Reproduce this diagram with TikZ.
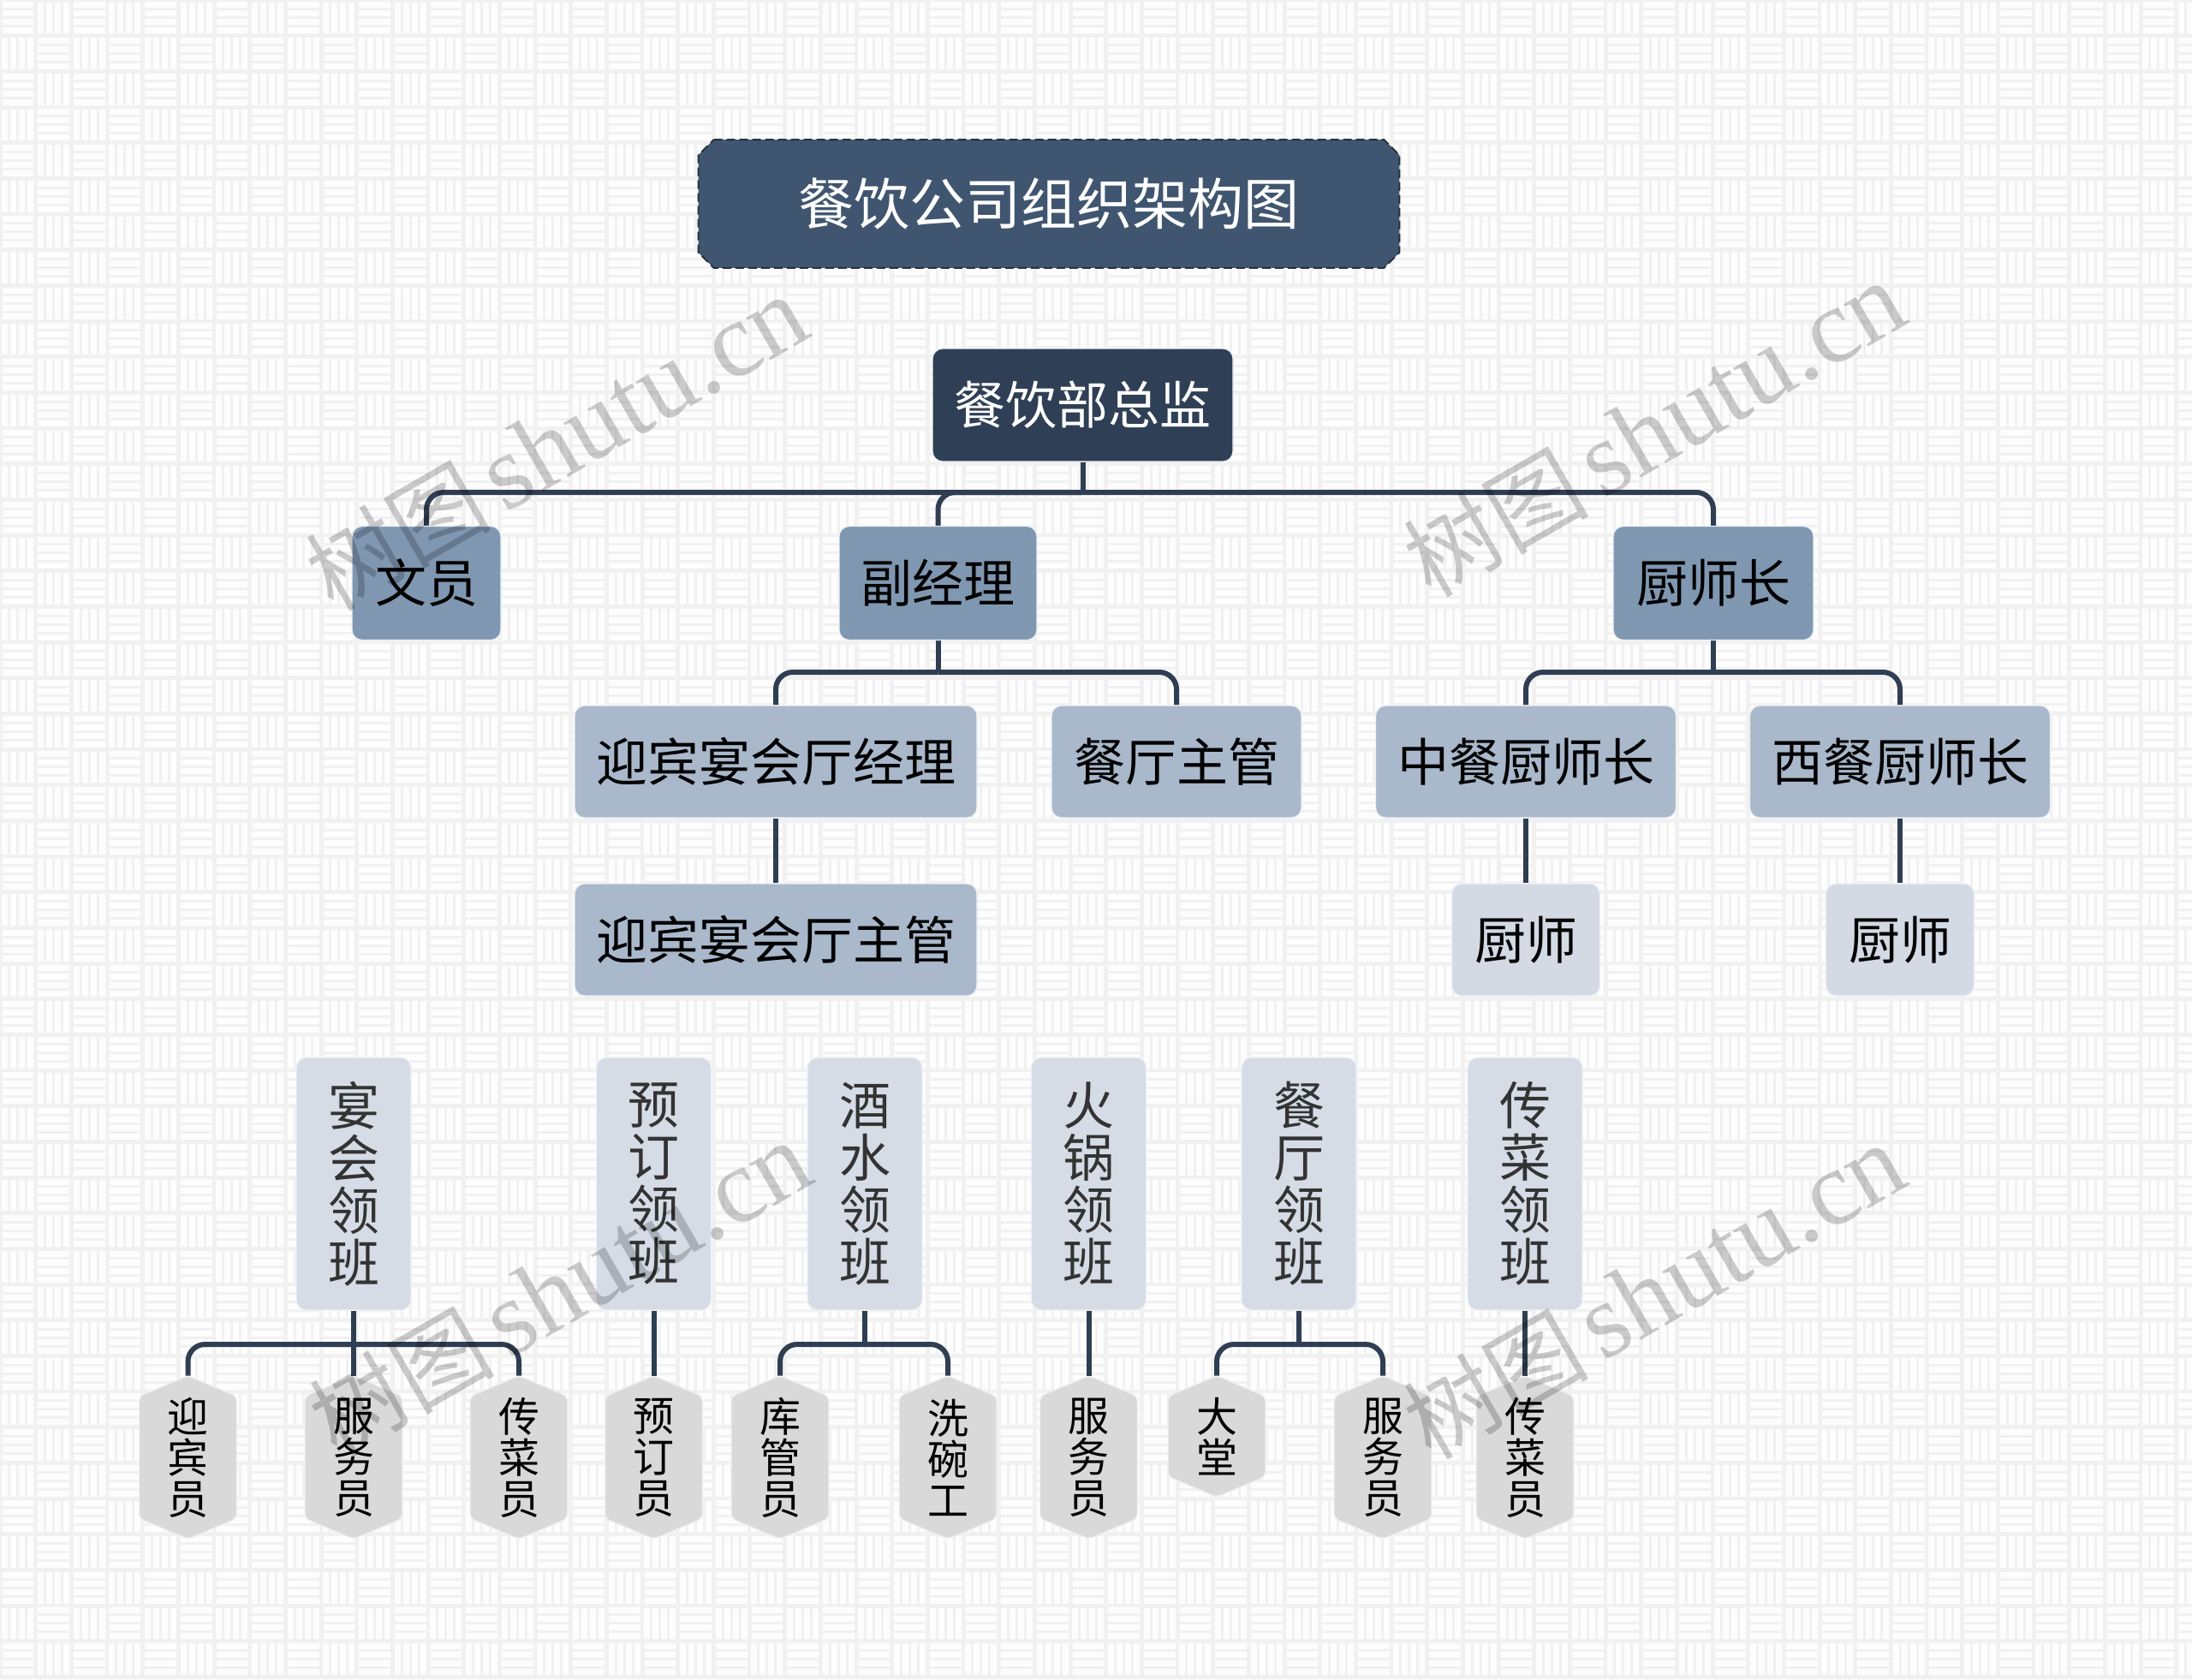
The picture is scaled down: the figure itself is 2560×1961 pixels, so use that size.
\documentclass[tikz,border=0pt]{standalone}
\usepackage{fontspec}
\newfontfamily\cjk{Noto Sans CJK SC}
\newfontfamily\wmserif{Liberation Serif}
\definecolor{cBg}{HTML}{F1F1F1}
\definecolor{cBar}{HTML}{FDFDFD}
\definecolor{cLine}{HTML}{2F3E52}
\definecolor{cTitle}{HTML}{40556F}
\definecolor{cTitleB}{HTML}{26323F}
\definecolor{cTop}{HTML}{2F3F55}
\definecolor{cL2}{HTML}{8097B1}
\definecolor{cL3}{HTML}{A9B8CB}
\definecolor{cL4}{HTML}{D3DAE4}
\definecolor{cL5}{HTML}{D5DCE6}
\definecolor{cHex}{HTML}{D9D9D9}
\definecolor{cEdge}{HTML}{EEF1F5}
\definecolor{cTxt}{HTML}{333333}
\pgfdeclarelayer{bg}\pgfdeclarelayer{shp}\pgfdeclarelayer{fg}
\pgfsetlayers{bg,shp,main,fg}
\tikzset{
  box/.style={rectangle, rounded corners=6pt, draw=cEdge, line width=0.6pt, inner sep=0pt, text=black, font=\cjk\fontsize{30}{30}\selectfont},
  lvtwo/.style={box, fill=cL2, minimum height=66.5pt},
  lvthree/.style={box, fill=cL3, minimum height=65.5pt},
  chef/.style={box, fill=cL4, minimum height=65.5pt, minimum width=86.5pt},
  vbox/.style={box, fill=cL5, text=cTxt, minimum width=67pt, minimum height=147.5pt, align=center, font=\cjk\fontsize{30}{30.5}\selectfont},
  hextext/.style={rectangle, inner sep=0pt, minimum width=56.5pt, align=center, text=black, font=\cjk\fontsize{24}{24}\selectfont},
  hexshape/.style={fill=cHex, draw=cEdge, line width=0.6pt, rounded corners=3pt},
  conn/.style={draw=cLine, line width=3pt, rounded corners=10pt},
  stub/.style={draw=cLine, line width=3pt},
  bgbar/.style={draw=cBar, line width=3.6pt, dash pattern=on 18.33pt off 23.34pt},
  wmark/.style={rotate=30, text=black, opacity=0.2, inner sep=0pt},
}
\newcommand\hexnode[5]{%
  \node[hextext, minimum height=#4] (#1) at (#2,#3) {#5};
  \begin{pgfonlayer}{shp}
    \path[hexshape] (#1.north) -- ([yshift=-12pt]#1.north east) -- ([yshift=12pt]#1.south east)
      -- (#1.south) -- ([yshift=12pt]#1.south west) -- ([yshift=-12pt]#1.north west) -- cycle;
  \end{pgfonlayer}}
\begin{document}
\begin{tikzpicture}[x=0.5pt,y=-0.5pt]
\useasboundingbox (0,0) rectangle (2560,1961);
% background weave
\begin{pgfonlayer}{bg}
  \fill[cBg] (0,0) rectangle (2560,1961);
  \foreach \j in {0,...,47}{
    \pgfmathsetmacro\st{mod(\j,2)*41.667+2.5}
    \foreach \k in {5.83,15.83,25.83,35.83}{
      \draw[bgbar] (\st,\j*41.667+\k) -- (2600,\j*41.667+\k);
    }
  }
  \foreach \i in {0,...,61}{
    \pgfmathsetmacro\st{(1-mod(\i,2))*41.667+2.5}
    \foreach \k in {5.83,15.83,25.83,35.83}{
      \draw[bgbar] (\i*41.667+\k,\st) -- (\i*41.667+\k,2000);
    }
  }
\end{pgfonlayer}

% title
\node[rectangle, inner sep=0pt, minimum width=409pt, minimum height=74.5pt, text=white,
      font=\cjk\fontsize{32.5}{33}\selectfont] (title) at (1225,238) {餐饮公司组织架构图};
\begin{pgfonlayer}{shp}
  \path[fill=cTitle, draw=cTitleB, line width=1pt, dash pattern=on 5pt off 2.5pt]
    ([xshift=9pt]title.north west) -- ([xshift=-9pt]title.north east) -- ([yshift=-9pt]title.north east)
    -- ([yshift=9pt]title.south east) -- ([xshift=-9pt]title.south east) -- ([xshift=9pt]title.south west)
    -- ([yshift=9pt]title.south west) -- ([yshift=-9pt]title.north west) -- cycle;
\end{pgfonlayer}

% level 1
\node[box, fill=cTop, draw=cEdge, text=white, minimum width=175.5pt, minimum height=66pt] (zj) at (1264.5,473) {餐饮部总监};
% level 2
\node[lvtwo, minimum width=87pt] (wy) at (498,681) {文员};
\node[lvtwo, minimum width=115.5pt] (fjl) at (1095.5,681) {副经理};
\node[lvtwo, minimum width=117pt] (csz) at (2001,681) {厨师长};
% level 3
\node[lvthree, minimum width=235pt] (ybjl) at (906,889.5) {迎宾宴会厅经理};
\node[lvthree, minimum width=146pt] (ctzg) at (1374,889.5) {餐厅主管};
\node[lvthree, minimum width=175.5pt] (zc) at (1782,889.5) {中餐厨师长};
\node[lvthree, minimum width=175.5pt] (xc) at (2219,889.5) {西餐厨师长};
% level 4
\node[lvthree, minimum width=235pt] (ybzg) at (906,1097.5) {迎宾宴会厅主管};
\node[chef] (cs1) at (1782,1097.5) {厨师};
\node[chef] (cs2) at (2219,1097.5) {厨师};
% level 5
\node[vbox] (yh) at (413,1382.5) {宴\\会\\领\\班};
\node[vbox] (yd) at (763.5,1382.5) {预\\订\\领\\班};
\node[vbox] (js) at (1010,1382.5) {酒\\水\\领\\班};
\node[vbox] (hg) at (1271.5,1382.5) {火\\锅\\领\\班};
\node[vbox] (ct) at (1517,1382.5) {餐\\厅\\领\\班};
\node[vbox] (cc) at (1781,1382.5) {传\\菜\\领\\班};
% level 6
\hexnode{h1}{219.5}{1702}{95pt}{迎\\宾\\员}
\hexnode{h2}{413}{1702}{95pt}{服\\务\\员}
\hexnode{h3}{606}{1702}{95pt}{传\\菜\\员}
\hexnode{h4}{763.5}{1702}{95pt}{预\\订\\员}
\hexnode{h5}{911}{1702}{95pt}{库\\管\\员}
\hexnode{h6}{1107}{1702}{95pt}{洗\\碗\\工}
\hexnode{h7}{1271.5}{1702}{95pt}{服\\务\\员}
\hexnode{h8}{1421}{1677.5}{70.5pt}{大\\堂}
\hexnode{h9}{1615}{1702}{95pt}{服\\务\\员}
\hexnode{h10}{1781}{1702}{95pt}{传\\菜\\员}

% connectors
\begin{pgfonlayer}{shp}
  \draw[stub] (zj.south) -- (zj.south |- 0,575) coordinate (b0);
  \draw[conn] (b0) -| (wy.north);
  \draw[conn] (b0) -| (fjl.north);
  \draw[conn] (b0) -| (csz.north);
  \draw[stub] (fjl.south) -- (fjl.south |- 0,785) coordinate (b1);
  \draw[conn] (b1) -| (ybjl.north);
  \draw[conn] (b1) -| (ctzg.north);
  \draw[stub] (csz.south) -- (csz.south |- 0,785) coordinate (b2);
  \draw[conn] (b2) -| (zc.north);
  \draw[conn] (b2) -| (xc.north);
  \draw[stub] (ybjl.south) -- (ybzg.north);
  \draw[stub] (zc.south) -- (cs1.north);
  \draw[stub] (xc.south) -- (cs2.north);
  \draw[stub] (yh.south) -- (yh.south |- 0,1570) coordinate (b3);
  \draw[conn] (b3) -| (h1.north);
  \draw[stub] (b3) -- (h2.north);
  \draw[conn] (b3) -| (h3.north);
  \draw[stub] (yd.south) -- (h4.north);
  \draw[stub] (js.south) -- (js.south |- 0,1570) coordinate (b4);
  \draw[conn] (b4) -| (h5.north);
  \draw[conn] (b4) -| (h6.north);
  \draw[stub] (hg.south) -- (h7.north);
  \draw[stub] (ct.south) -- (ct.south |- 0,1570) coordinate (b5);
  \draw[conn] (b5) -| (h8.north);
  \draw[conn] (b5) -| (h9.north);
  \draw[stub] (cc.south) -- (h10.north);
\end{pgfonlayer}

% watermarks
\begin{pgfonlayer}{fg}
  \node[wmark] (wm1) at (650,518) {{\cjk\fontsize{54}{54}\selectfont 树图}\hspace{8pt}{\wmserif\fontsize{62}{62}\selectfont shutu.cn}};
  \node[wmark] (wm2) at (1932,502) {{\cjk\fontsize{54}{54}\selectfont 树图}\hspace{8pt}{\wmserif\fontsize{62}{62}\selectfont shutu.cn}};
  \node[wmark] (wm3) at (654,1506) {{\cjk\fontsize{54}{54}\selectfont 树图}\hspace{8pt}{\wmserif\fontsize{62}{62}\selectfont shutu.cn}};
  \node[wmark] (wm4) at (1932,1509) {{\cjk\fontsize{54}{54}\selectfont 树图}\hspace{8pt}{\wmserif\fontsize{62}{62}\selectfont shutu.cn}};
\end{pgfonlayer}
\end{tikzpicture}
\end{document}
